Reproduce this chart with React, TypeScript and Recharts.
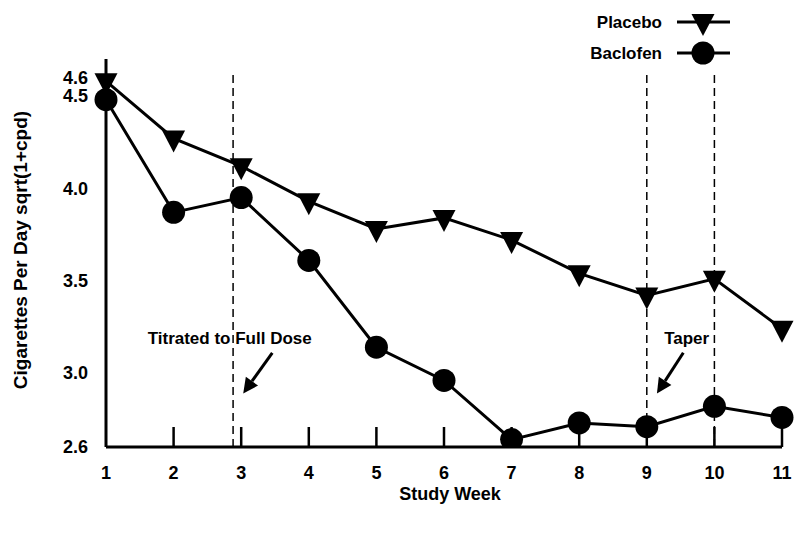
import { Legend, Line, LineChart, ReferenceDot, ReferenceLine, XAxis, YAxis } from "recharts"

const weeks = [1, 2, 3, 4, 5, 6, 7, 8, 9, 10, 11]
const placebo = [4.58, 4.27, 4.12, 3.93, 3.78, 3.84, 3.72, 3.54, 3.42, 3.51, 3.24]
const baclofen = [4.48, 3.87, 3.95, 3.61, 3.14, 2.96, 2.64, 2.73, 2.71, 2.82, 2.76]
const yTicks = [2.6, 3.0, 3.5, 4.0, 4.5, 4.6]

// phase boundaries (dashed verticals)
const phaseWeeks = [2.88, 9, 10]
const phaseTop = 4.63

// annotations: text position + arrow from/to
const noteTexts = ["Titrated to Full Dose", "Taper"]
const noteAt = [
  { x: 2.83, y: 3.19 },
  { x: 9.59, y: 3.19 },
]
const arrowFrom = [
  { x: 3.46, y: 3.11 },
  { x: 9.54, y: 3.11 },
]
const arrowTo = [
  { x: 3.03, y: 2.89 },
  { x: 9.15, y: 2.89 },
]

const data = weeks.map((w, i) => ({ week: w, placebo: placebo[i], baclofen: baclofen[i] }))

const FONT = "'Liberation Sans', Arial, sans-serif"

function Tri({ cx, cy }: { cx: number; cy: number }) {
  return <polygon points={`${cx - 11.5},${cy - 8} ${cx + 11.5},${cy - 8} ${cx},${cy + 14}`} fill="#000" />
}

function renderTri(props: any) {
  if (props.cx == null) return <g key={props.index} />
  return (
    <g key={`t-${props.index}`}>
      <Tri cx={props.cx} cy={props.cy} />
    </g>
  )
}

function renderCircle(props: any) {
  if (props.cx == null) return <g key={props.index} />
  return <circle key={`c-${props.index}`} cx={props.cx} cy={props.cy} r={11.5} fill="#000" />
}

function WeekTick({ x, y, payload }: any) {
  return (
    <g>
      {payload.value > 1 && <line x1={x} x2={x} y1={y - 20} y2={y} stroke="#000" strokeWidth={2.5} />}
      <text x={x} y={y + 32} textAnchor="middle" fontSize={18} fontWeight="bold" fill="#000" fontFamily={FONT}>
        {payload.value}
      </text>
    </g>
  )
}

function Arrow(props: any) {
  const { x1, y1, x2, y2 } = props
  const a = Math.atan2(y2 - y1, x2 - x1)
  const len = 15
  const w = 7.5
  const bx = x2 - len * Math.cos(a)
  const by = y2 - len * Math.sin(a)
  const pts = `${x2},${y2} ${bx + w * Math.sin(a)},${by - w * Math.cos(a)} ${bx - w * Math.sin(a)},${by + w * Math.cos(a)}`
  return (
    <g>
      <line x1={x1} y1={y1} x2={bx} y2={by} stroke="#000" strokeWidth={3} />
      <polygon points={pts} fill="#000" />
    </g>
  )
}

function LegendBox() {
  const rows = [
    { name: "Placebo", y: 22, tri: true },
    { name: "Baclofen", y: 53, tri: false },
  ]
  return (
    <svg width={170} height={70}>
      {rows.map((r) => (
        <g key={r.name}>
          <text x={82} y={r.y + 6} textAnchor="end" fontSize={17} fontWeight="bold" fill="#000" fontFamily={FONT}>
            {r.name}
          </text>
          <line x1={97} x2={150} y1={r.y} y2={r.y} stroke="#000" strokeWidth={3} />
          {r.tri ? <Tri cx={123} cy={r.y} /> : <circle cx={123} cy={r.y} r={11.5} fill="#000" />}
        </g>
      ))}
    </svg>
  )
}

export default function App() {
  return (
    <div style={{ position: "absolute", left: 0, top: 0, background: "#fff" }}>
      <LineChart
        width={800}
        height={536}
        data={data}
        margin={{ top: 59, right: 18, left: 0, bottom: 0 }}
        style={{ fontFamily: FONT }}
      >
        <XAxis
          dataKey="week"
          type="number"
          domain={[1, 11]}
          ticks={weeks}
          interval={0}
          tick={WeekTick}
          tickLine={false}
          tickSize={0}
          tickMargin={0}
          height={89}
          axisLine={{ stroke: "#000", strokeWidth: 3 }}
          label={{
            value: "Study Week",
            position: "insideBottom",
            offset: 36,
            dx: 6,
            fontSize: 18,
            fontWeight: "bold",
            fill: "#000",
          }}
        />
        <YAxis
          type="number"
          domain={[2.6, 4.7]}
          ticks={yTicks}
          interval={0}
          allowDataOverflow
          width={106}
          tickLine={false}
          tickSize={0}
          tickMargin={18}
          tickFormatter={(v: number) => v.toFixed(1)}
          tick={{ fontSize: 18, fontWeight: "bold", fill: "#000" }}
          axisLine={{ stroke: "#000", strokeWidth: 3 }}
          label={{
            value: "Cigarettes Per Day sqrt(1+cpd)",
            angle: -90,
            position: "insideLeft",
            offset: 20,
            dy: -3,
            fontSize: 19,
            fontWeight: "bold",
            fill: "#000",
            style: { textAnchor: "middle" },
          }}
        />
        <Legend
          layout="vertical"
          align="center"
          verticalAlign="middle"
          content={LegendBox}
          wrapperStyle={{ top: 0, left: 580, width: 170, height: 70 }}
        />

        {phaseWeeks.map((w) => (
          <ReferenceLine
            key={w}
            segment={[
              { x: w, y: 2.6 },
              { x: w, y: phaseTop },
            ]}
            stroke="#000"
            strokeWidth={1.5}
            strokeDasharray="8 5"
          />
        ))}

        {noteTexts.map((t, i) => (
          <ReferenceDot
            key={t}
            x={noteAt[i].x}
            y={noteAt[i].y}
            r={0}
            fill="none"
            stroke="none"
            label={{ value: t, position: "center", fontSize: 17, fontWeight: "bold", fill: "#000" }}
          />
        ))}
        {noteTexts.map((t, i) => (
          <ReferenceLine key={`a-${t}`} segment={[arrowFrom[i], arrowTo[i]]} shape={Arrow} />
        ))}

        <Line
          dataKey="placebo"
          name="Placebo"
          type="linear"
          stroke="#000"
          strokeWidth={3}
          dot={renderTri}
          activeDot={false}
          isAnimationActive={false}
        />
        <Line
          dataKey="baclofen"
          name="Baclofen"
          type="linear"
          stroke="#000"
          strokeWidth={3}
          dot={renderCircle}
          activeDot={false}
          isAnimationActive={false}
        />
      </LineChart>
    </div>
  )
}
